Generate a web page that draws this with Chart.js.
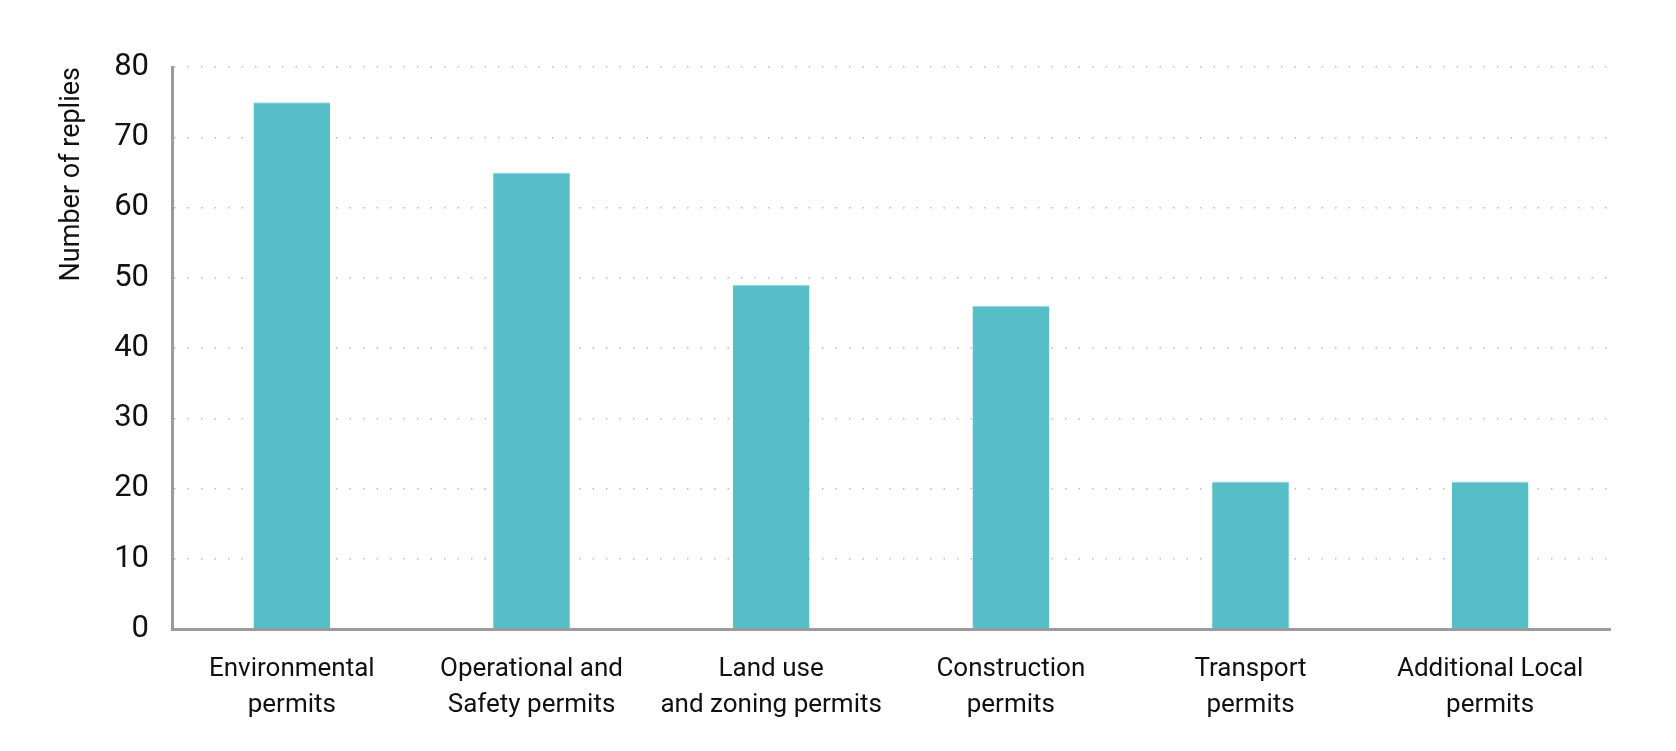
<!DOCTYPE html>
<html lang="en">
<head>
    <meta charset="UTF-8">
    <title>Number of replies by permit type</title>
    <style>
        html, body { margin: 0; padding: 0; background: #fff; }
        .chart-box { width: 1676px; height: 751px; position: relative; }
    </style>
</head>
<body>
    <div class="chart-box">
        <canvas id="chart"></canvas>
    </div>

    <script src="https://cdn.jsdelivr.net/npm/chart.js"></script>
    <script>
        // data
        const categories = [
            ['Environmental', 'permits'],
            ['Operational and', 'Safety permits'],
            ['Land use', 'and zoning permits'],
            ['Construction', 'permits'],
            ['Transport', 'permits'],
            ['Additional Local', 'permits']
        ];
        const replies = [75, 65, 49, 46, 21, 21];
        const yTicks = [0, 10, 20, 30, 40, 50, 60, 70, 80];

        const labelFont = "Roboto, 'Noto Sans', sans-serif";

        const ctx = document.getElementById('chart').getContext('2d');
        new Chart(ctx, {
            type: 'bar',
            data: {
                labels: categories,
                datasets: [{
                    label: 'Number of replies',
                    data: replies,
                    backgroundColor: '#55bec7',
                    borderColor: '#9ad8dd',
                    borderWidth: { top: 1, left: 0, right: 0, bottom: 0 },
                    borderSkipped: false,
                    categoryPercentage: 1,
                    barPercentage: 0.32
                }]
            },
            options: {
                responsive: true,
                maintainAspectRatio: false,
                animation: false,
                layout: { padding: { top: 67, right: 66, bottom: 0, left: 0 } },
                plugins: {
                    legend: { display: false },
                    tooltip: { enabled: false }
                },
                scales: {
                    x: {
                        grid: { display: false },
                        border: { color: '#9b9b9b', width: 3 },
                        ticks: {
                            color: '#111',
                            padding: 15,
                            maxRotation: 0,
                            font: { family: labelFont, size: 26, lineHeight: 1.37 }
                        },
                        afterFit: (scale) => { scale.height = 751 - 629; }
                    },
                    y: {
                        min: 0,
                        max: 80,
                        afterBuildTicks: (scale) => {
                            scale.ticks = yTicks.map(v => ({ value: v }));
                        },
                        grid: {
                            color: '#bdbdbd',
                            lineWidth: 1.5,
                            drawTicks: false
                        },
                        border: { color: '#9b9b9b', width: 3, dash: [1.5, 12] },
                        ticks: {
                            color: '#111',
                            padding: 23,
                            font: { family: labelFont, size: 31 }
                        },
                        title: {
                            display: true,
                            text: 'Number of replies',
                            align: 'end',
                            color: '#111',
                            padding: { top: 56, bottom: 0 },
                            font: { family: labelFont, size: 27 }
                        },
                        afterFit: (scale) => { scale.width = 172; }
                    }
                }
            }
        });
    </script>
</body>
</html>
